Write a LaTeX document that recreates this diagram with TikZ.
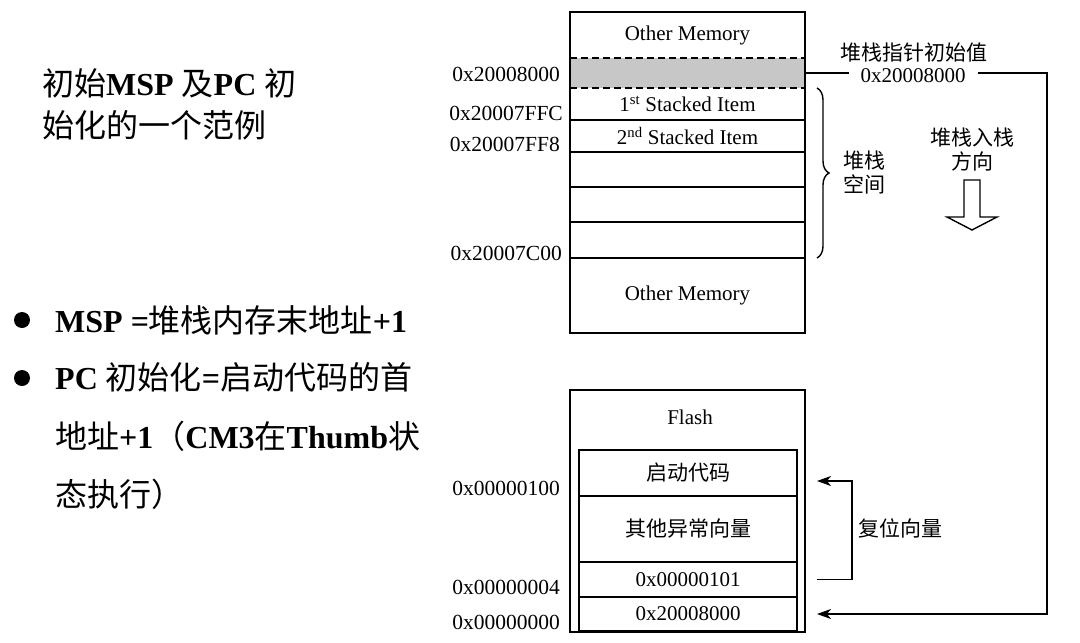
\documentclass[tikz,border=0pt]{standalone}
\usepackage{fontspec}
\setmainfont{Liberation Serif}
\newfontfamily\cjk{Noto Sans CJK SC}
\usepackage{tikz}
\usetikzlibrary{arrows.meta, positioning, decorations.pathreplacing, calc}
\newcommand{\zh}[1]{{\cjk #1}}
\tikzstyle{cell} = [rectangle, minimum width=235pt, inner sep=0pt, outer sep=0pt, font=\fontsize{21}{24}\selectfont]
\tikzstyle{vcell} = [rectangle, draw=black, line width=1.3pt, minimum width=218pt, inner sep=0pt, outer sep=0pt, font=\fontsize{21}{24}\selectfont]
\tikzstyle{frame} = [draw=black, line width=2.8pt]
\tikzstyle{sep} = [line width=1.4pt]
\tikzstyle{addr} = [anchor=east, inner sep=0pt, font=\fontsize{21.5}{24}\selectfont]
\tikzstyle{lab} = [align=center, inner sep=0pt, font=\fontsize{21}{24}\selectfont\cjk]
\tikzstyle{arr} = [-{Stealth[length=14pt, width=10pt, inset=4pt]}, line width=1.5pt]
\tikzstyle{big} = [align=left, inner sep=0pt, font=\fontsize{32}{42}\selectfont]
\tikzstyle{item} = [align=left, inner sep=0pt, font=\fontsize{32}{58.5}\selectfont]
\tikzstyle{dot} = [circle, fill=black, minimum size=16pt, inner sep=0pt]

\begin{document}
\begin{tikzpicture}[x=1pt, y=-1pt]
  \useasboundingbox (0,0) rectangle (1080,643);
  % Left side: title and bullets
  \node[big, anchor=west] (title) at (42,104) {\zh{初始}\textbf{MSP} \zh{及}\textbf{PC} \zh{初}\\\zh{始化的一个范例}};
  \node[dot] (d1) at (22,320) {};
  \node[dot] (d2) at (22,378) {};
  \node[item, anchor=west] (i1) at (55,320) {\textbf{MSP =}\zh{堆栈内存末地址}\textbf{+1}};
  \node[item, anchor=west] (i2) at (55,436.5) {\textbf{PC} \zh{初始化}\textbf{=}\zh{启动代码的首}\\\zh{地址}\textbf{+1}\zh{（}\textbf{CM3}\zh{在}\textbf{Thumb}\zh{状}\\\zh{态执行）}};
  % RAM (stack)
  \node[cell, minimum height=321pt] (ram) at (687.5,172.5) {};
  \node[cell, minimum height=46pt, anchor=north] (om1) at (ram.north) {\raisebox{-3pt}{Other Memory}};
  \node[cell, minimum height=30pt, fill=black!22, below=0pt of om1] (sp0) {};
  \node[cell, minimum height=32pt, below=0pt of sp0] (s1) {1\textsuperscript{st} Stacked Item};
  \node[cell, minimum height=32pt, below=0pt of s1] (s2) {2\textsuperscript{nd} Stacked Item};
  \node[cell, minimum height=35pt, below=0pt of s2] (e1) {};
  \node[cell, minimum height=35pt, below=0pt of e1] (e2) {};
  \node[cell, minimum height=36pt, below=0pt of e2] (e3) {};
  \node[cell, minimum height=75pt, below=0pt of e3] (om2) {\raisebox{-3pt}{Other Memory}};
  \foreach \r in {s1,s2,e1,e2,e3}
    \draw[sep] (\r.south west) -- (\r.south east);
  \draw[sep, dash pattern=on 7pt off 4pt] (sp0.north west) -- (sp0.north east);
  \draw[sep, dash pattern=on 7pt off 4pt] (sp0.south west) -- (sp0.south east);
  \draw[frame] (ram.north west) rectangle (ram.south east);
  \node[addr] (a0) at ([xshift=-10pt,yshift=-1pt]sp0.west) {0x20008000};
  \node[addr] (a1) at ([xshift=-7pt,yshift=7pt]s1.south west) {0x20007FFC};
  \node[addr] (a2) at ([xshift=-10pt,yshift=8pt]s2.south west) {0x20007FF8};
  \node[addr] (a3) at ([xshift=-8pt,yshift=5pt]e3.south west) {0x20007C00};
  % stack space brace and push direction
  \draw[sep, decorate, decoration={brace, amplitude=12pt}] ([xshift=12pt]sp0.south east) -- ([xshift=12pt]e3.south east)
    node[lab, midway, right=26pt] (stk) {堆栈\\空间};
  \node[lab] (dir) at (972,150) {堆栈入栈\\方向};
  \draw[line width=1.4pt] (964,180) -- (980,180) -- (980,217) -- (997,217) -- (972,230) -- (947,217) -- (964,217) -- cycle;
  % initial stack pointer
  \node[lab] (spname) at (914,53) {堆栈指针初始值};
  \node[cell, minimum width=0pt, inner xsep=12pt] (spinit) at (913,76) {0x20008000};
  % Flash
  \node[cell, minimum height=242pt] (flash) at (687.5,511) {};
  \node[cell, minimum width=0pt] (fl) at (690,417) {Flash};
  \node[vcell, minimum height=46pt, anchor=north] (boot) at (688,450) {\zh{启动代码}};
  \node[vcell, minimum height=66pt, below=0pt of boot] (exc) {\zh{其他异常向量}};
  \node[vcell, minimum height=35pt, below=0pt of exc] (v1) {0x00000101};
  \node[vcell, minimum height=34pt, below=0pt of v1] (v0) {0x20008000};
  \draw[line width=2.4pt] (boot.north west) rectangle (v0.south east);
  \draw[frame] (flash.north west) rectangle (flash.south east);
  \node[addr] (b2) at ([xshift=-19pt,yshift=8pt]boot.south west) {0x00000100};
  \node[addr] (b1) at ([xshift=-19pt,yshift=10pt]v1.south west) {0x00000004};
  \node[addr] (b0) at ([xshift=-19pt,yshift=9pt]v0.south west) {0x00000000};
  % connectors
  \coordinate (rtx) at (1047,0);
  \draw[sep] (sp0.east) -- (sp0.east -| spinit.west);
  \draw[arr] (sp0.east -| spinit.east) -| (rtx |- v0.east) -- ([xshift=20pt]v0.east);
  \draw[arr] ([xshift=20pt]v1.east) -- ++(35,0) |- ([xshift=20pt,yshift=-8pt]boot.east);
  \node[lab, anchor=west] (rv) at (858,528) {复位向量};
\end{tikzpicture}
\end{document}
